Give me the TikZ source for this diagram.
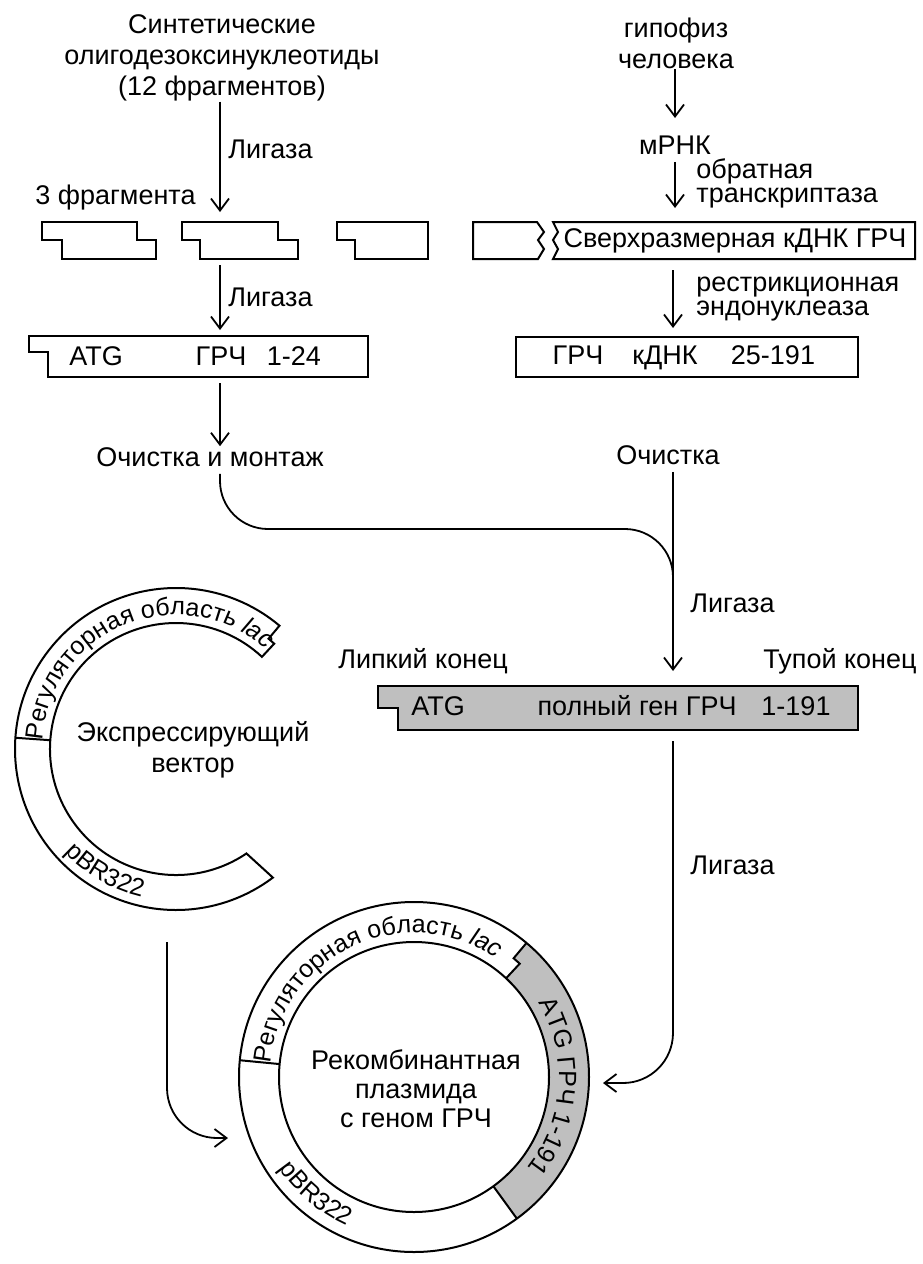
\documentclass[tikz,border=0pt]{standalone}
\usepackage{fontspec}
\setmainfont{Liberation Sans}
\usetikzlibrary{arrows.meta,decorations.text}

\newcommand{\bandfont}{\fontsize{12.5}{14}\selectfont}
\tikzset{
  txt/.style={font=\fontsize{13.5}{15.5}\selectfont, inner sep=0pt,
    text height=10pt, text depth=3.4pt},
  blk/.style={font=\fontsize{13.5}{15.5}\selectfont, inner sep=0pt, align=center},
  lbl/.style={font=\fontsize{13.5}{12}\selectfont, inner sep=0pt, align=left, anchor=west},
  dna/.style={draw, line width=1pt},
  wire/.style={line width=0.9pt},
  arr/.style={wire, -{Straight Barb[length=6pt,width=9pt]}},
  ring/.style={decorate, decoration={text along path, text align=center, text={#1}}}
}

\begin{document}
\begin{tikzpicture}[x=0.5pt,y=0.5pt]
\useasboundingbox (0,0) rectangle (922,-1264);

% synthetic fragments
\node[blk] (syn) at (222,-58) {Синтетические\\олигодезоксинуклеотиды\\(12 фрагментов)};
\coordinate (f2in) at (220,-212);
\draw[arr] (syn.south -| f2in) -- (f2in);
\node[txt, anchor=west] (lig1) at (228,-152) {Лигаза};
\node[txt, anchor=west] (three) at (35,-198) {3 фрагмента};
\draw[dna] (42,-222) -- (137,-222) -- (137,-240) -- (156,-240) -- (156,-259) -- (62,-259) -- (62,-240) -- (42,-240) -- cycle;
\draw[dna] (182,-222) -- (278,-222) -- (278,-240) -- (298,-240) -- (298,-259) -- (200,-259) -- (200,-240) -- (182,-240) -- cycle;
\draw[dna] (337,-222) -- (428,-222) -- (428,-259) -- (355,-259) -- (355,-240) -- (337,-240) -- cycle;
\coordinate (f2out) at (220,-265);
\coordinate (b1in) at (220,-330);
\draw[arr] (f2out) -- (b1in);
\node[txt, anchor=west] (lig2) at (228,-300) {Лигаза};
\draw[dna] (29,-336) -- (368,-336) -- (368,-377) -- (48,-377) -- (48,-352) -- (29,-352) -- cycle;
\node[txt] (atg1) at (96,-359) {ATG};
\node[txt] (grch1) at (221,-359) {ГРЧ};
\node[txt] (n1) at (294,-359) {1-24};
\coordinate (b1out) at (220,-383);
\node[txt] (och1) at (210,-460) {Очистка и монтаж};
\draw[arr] (b1out) -- (och1.north -| b1out);

% cDNA branch
\node[blk] (gip) at (676,-43) {гипофиз\\человека};
\coordinate (m1) at (675,-118);
\draw[arr] (gip.south -| m1) -- (m1);
\node[txt] (mrna) at (675,-148) {мРНК};
\coordinate (c1) at (675,-208);
\draw[arr] (mrna.south) -- (c1);
\node[lbl] (obr) at (696,-183) {обратная\\транскриптаза};
\draw[dna] (473,-222) -- (537,-222) -- (544,-232) -- (538,-240) -- (544,-249) -- (538,-259) -- (473,-259) -- cycle;
\draw[dna] (553,-222) -- (915,-222) -- (915,-259) -- (553,-259) -- (558,-249) -- (553,-240) -- (558,-232) -- cycle;
\node[txt] (big) at (735,-241) {Сверхразмерная кДНК ГРЧ};
\coordinate (c2) at (673,-270);
\coordinate (b2in) at (673,-328);
\draw[arr] (c2) -- (b2in);
\node[lbl] (restr) at (696,-299) {рестрикционная\\эндонуклеаза};
\draw[dna] (516,-337) rectangle (858,-377);
\node[txt] (grch2) at (578,-358) {ГРЧ};
\node[txt] (cdna) at (665,-358) {кДНК};
\node[txt] (n2) at (773,-358) {25-191};
\node[txt] (och2) at (668,-458) {Очистка};

% joining
\coordinate (join) at (673,-529);
\coordinate (joinend) at (673,-575);
\draw[wire, rounded corners=24] (och1.south -| b1out) |- (join) -- (joinend);
\coordinate (g1in) at (673,-671);
\draw[arr] (och2.south -| g1in) -- (g1in);
\node[txt, anchor=west] (lig3) at (690,-606) {Лигаза};
\node[txt] (lip) at (423,-662) {Липкий конец};
\node[txt] (tup) at (840,-662) {Тупой конец};
\draw[dna, fill=gray!50] (378,-686) -- (858,-686) -- (858,-730) -- (398,-730) -- (398,-708) -- (378,-708) -- cycle;
\node[txt] (atg2) at (438,-709) {ATG};
\node[txt] (full) at (637,-709) {полный ген ГРЧ};
\node[txt] (n3) at (796,-709) {1-191};
\coordinate (g1out) at (673,-741);
\coordinate (p2in) at (603,-1083);
\draw[arr, rounded corners=25] (g1out) |- (p2in);
\node[txt, anchor=west] (lig4) at (690,-868) {Лигаза};

% expression vector
\begin{scope}[shift={(176,-749)}]
\draw[dna] (50:161) arc[start angle=50, end angle=307, radius=161] -- (304:126)
  arc[start angle=304, end angle=47, radius=126] -- (47:144) -- (50:144) -- cycle;
\draw[dna] (176:126) -- (176:161);
\path[ring={|\bandfont|Регуляторная область |\bandfont\itshape|lac}] (180:134) arc[start angle=180, end angle=44, radius=134];
\path[ring={|\bandfont|pBR322}] (220:152) arc[start angle=220, end angle=260, radius=152];
\end{scope}
\node[blk] (vec) at (193,-750) {Экспрессирующий\\вектор};
\coordinate (v1out) at (167,-942);
\coordinate (p1in) at (228,-1138);
\draw[arr, rounded corners=25] (v1out) |- (p1in);

% recombinant plasmid
\begin{scope}[shift={(414,-1077)}]
\fill[gray!50] (50:175) arc[start angle=50, end angle=-54, radius=175] -- (-54:135)
  arc[start angle=-54, end angle=47, radius=135] -- (47:155) -- (50:155) -- cycle;
\draw[dna] (0,0) circle[radius=175];
\draw[dna] (0,0) circle[radius=135];
\draw[dna] (174.5:135) -- (174.5:175);
\draw[dna] (-54:135) -- (-54:175);
\draw[dna] (47:135) -- (47:155) -- (50:155) -- (50:175);
\path[ring={|\bandfont|Регуляторная область |\bandfont\itshape|lac}] (178:144) arc[start angle=178, end angle=52, radius=144];
\path[ring={|\bandfont|ATG ГРЧ 1-191}] (38:145) arc[start angle=38, end angle=-46, radius=145];
\path[ring={|\bandfont|pBR322}] (210:163) arc[start angle=210, end angle=250, radius=163];
\end{scope}
\node[blk, font=\fontsize{13.5}{14.5}\selectfont] (rec) at (416,-1089) {Рекомбинантная\\плазмида\\с геном ГРЧ};
\end{tikzpicture}
\end{document}
